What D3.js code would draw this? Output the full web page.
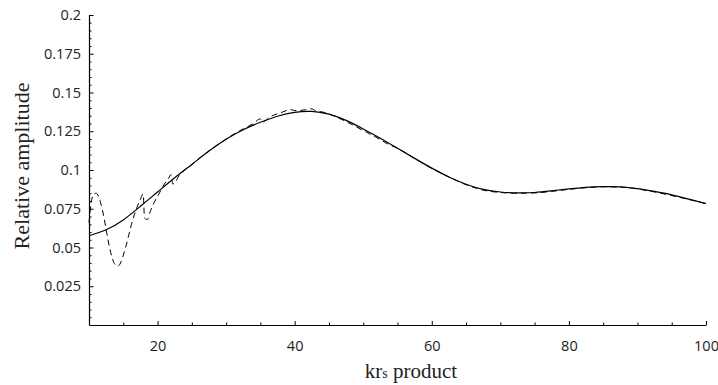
<!DOCTYPE html>
<html><head><meta charset="utf-8">
<script src="https://cdn.jsdelivr.net/npm/d3@7"></script>
<style>body{margin:0;background:#fff} svg{display:block}</style>
</head><body>
<svg id="c" width="718" height="385"></svg>
<script>
// ---- data ----
const solidX = [10,12.5,15,17.5,20,22.5,25,27.5,30,32.5,35,37.5,40,42.5,45,47.5,50,52.5,55,57.5,60,62.5,65,67.5,70,72.5,75,77.5,80,82.5,85,87.5,90,92.5,95,97.5,100];
const solidY = [0.0576,0.0615,0.0678,0.0766,0.0858,0.0950,0.1036,0.1122,0.1198,0.1260,0.1308,0.1347,0.1372,0.1378,0.1360,0.1320,0.1265,0.1205,0.1140,0.1075,0.1012,0.0955,0.0908,0.0875,0.0858,0.0852,0.0855,0.0866,0.0878,0.0888,0.0893,0.0891,0.0880,0.0862,0.0840,0.0812,0.0783];
const dashedX = [10,10.3,10.6,11,11.4,11.8,12.2,12.6,13,13.4,13.8,14.2,14.6,15,15.4,15.8,16.2,16.6,17,17.4,17.9,18.1,18.5,19,19.5,20,20.5,21,21.5,22,22.2,22.6,23,24,25,26.5,28,29.5,31,32.5,34,35,35.3,36.5,38,39.5,40,41.5,42.5,43,44.5,46,47.5,49,50.5,52,53.5,55,57.5,60,62.5,65,67.5,70,72.5,75,77.5,80,82.5,85,87.5,90,92.5,95,97.5,100];
const dashedY = [0.066,0.078,0.084,0.085,0.083,0.077,0.069,0.059,0.050,0.043,0.039,0.038,0.040,0.045,0.051,0.058,0.065,0.071,0.076,0.080,0.0845,0.069,0.068,0.074,0.079,0.083,0.087,0.091,0.094,0.097,0.091,0.092,0.0955,0.1000,0.1035,0.1090,0.1140,0.1185,0.1228,0.1265,0.1300,0.1330,0.1310,0.1345,0.1370,0.1390,0.1383,0.1388,0.1395,0.1383,0.1370,0.1343,0.1313,0.1278,0.1243,0.1208,0.1170,0.1140,0.1075,0.1010,0.0955,0.0905,0.0870,0.0855,0.0850,0.0852,0.0862,0.0875,0.0886,0.0892,0.0890,0.0878,0.0858,0.0835,0.0810,0.0783];
const xTickValues = [20,40,60,80,100];
const xTickLabels = ["20","40","60","80","100"];
const yTickValues = [0.025,0.05,0.075,0.1,0.125,0.15,0.175,0.2];
const yTickLabels = ["0.025","0.05","0.075","0.1","0.125","0.15","0.175","0.2"];
const xLabelMain = "kr", xLabelSub = "s", xLabelRest = " product";
const yLabel = "Relative amplitude";

// ---- layout ----
const svg = d3.select("#c");
const x = d3.scaleLinear().domain([10,100]).range([89,706]);
const y = d3.scaleLinear().domain([0,0.2]).range([325,15]);
const tickFont = "'Open Sans', sans-serif";
const serif = "'Liberation Serif', 'Times New Roman', serif";

// minor ticks
const yMinor = d3.range(0.005, 0.2001, 0.005).filter(v => Math.abs(v/0.025 - Math.round(v/0.025)) > 1e-6);
const xMinor = d3.range(15, 100, 5).filter(v => v % 20 !== 0);

svg.append("g").attr("transform",`translate(${x(10)},0)`)
  .call(d3.axisLeft(y).tickValues(yMinor).tickSize(-2.5).tickFormat(""))
  .call(g=>g.select(".domain").remove())
  .call(g=>g.selectAll("line").attr("stroke","#000"));
svg.append("g").attr("transform",`translate(0,${y(0)})`)
  .call(d3.axisBottom(x).tickValues(xMinor).tickSize(-2.5).tickFormat(""))
  .call(g=>g.select(".domain").remove())
  .call(g=>g.selectAll("line").attr("stroke","#000"));

// major axes
const yAx = svg.append("g").attr("transform",`translate(${x(10)},0)`)
  .call(d3.axisLeft(y).tickValues(yTickValues).tickSize(-4.5).tickPadding(8)
    .tickFormat((d,i)=>yTickLabels[i]).tickSizeOuter(0));
yAx.select(".domain").attr("stroke","#000").attr("stroke-width",1.2);
yAx.selectAll("line").attr("stroke","#000");
yAx.selectAll("text").attr("font-family",tickFont).attr("font-size",14.5).attr("fill","#222");

const xAx = svg.append("g").attr("transform",`translate(0,${y(0)})`)
  .call(d3.axisBottom(x).tickValues(xTickValues).tickSize(-4).tickPadding(16)
    .tickFormat((d,i)=>xTickLabels[i]).tickSizeOuter(0));
xAx.select(".domain").attr("stroke","#000").attr("stroke-width",1.2);
xAx.selectAll("line").attr("stroke","#000");
xAx.selectAll("text").attr("font-family",tickFont).attr("font-size",14.5).attr("fill","#222");

// curves
const solidData = solidX.map((d,i)=>[d, solidY[i]]);
const dashedData = dashedX.map((d,i)=>[d, dashedY[i]]);
const lineSolid = d3.line().x(d=>x(d[0])).y(d=>y(d[1])).curve(d3.curveNatural);
const lineDashed = d3.line().x(d=>x(d[0])).y(d=>y(d[1])).curve(d3.curveMonotoneX);

svg.append("path").datum(dashedData).attr("d",lineDashed)
  .attr("fill","none").attr("stroke","#000").attr("stroke-width",1)
  .attr("stroke-dasharray","6,4");
svg.append("path").datum(solidData).attr("d",lineSolid)
  .attr("fill","none").attr("stroke","#000").attr("stroke-width",1.2);

// axis titles
svg.append("text").attr("transform","translate(29,166) rotate(-90)")
  .attr("text-anchor","middle").attr("font-family",serif).attr("font-size",22)
  .attr("fill","#222").text(yLabel);
const xl = svg.append("text").attr("x",411).attr("y",378)
  .attr("text-anchor","middle").attr("font-family",serif).attr("font-size",21).attr("fill","#222");
xl.append("tspan").text(xLabelMain);
xl.append("tspan").attr("font-size",14).text(xLabelSub);
xl.append("tspan").text(xLabelRest);
</script>
</body></html>
